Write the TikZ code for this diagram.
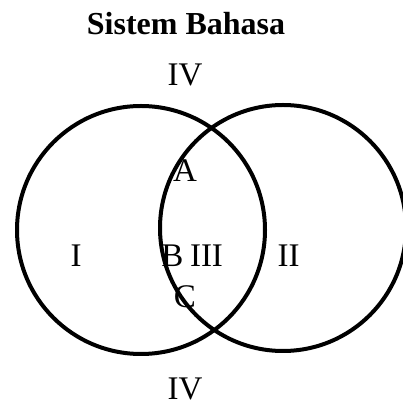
\documentclass[tikz,border=0pt]{standalone}
\usepackage{fontspec}
\setmainfont{Liberation Serif}
\usepackage{tikz}
\def\radL{124pt}
\def\radR{123pt}
\tikzset{
  lbl/.style={anchor=base,inner sep=0pt,font=\fontsize{33}{36}\selectfont},
  ttl/.style={anchor=base,inner sep=0pt,font=\fontsize{32}{36}\selectfont\bfseries}
}

\begin{document}
\begin{tikzpicture}[x=1pt,y=1pt]
\useasboundingbox (0,0) rectangle (403,407);
% the two circle centres
\coordinate (L) at (141,177);
\coordinate (R) at (283,179);
% the circles
\draw[line width=4pt] (L) circle [radius=\radL];
\draw[line width=4pt] (R) circle [radius=\radR];
% the title and the outer region
\node[ttl] (title) at (186,372) {Sistem Bahasa};
\node[lbl] (outtop) at (185,321) {IV};
\node[lbl] (outbot) at (185,8) {IV};
% the regions inside
\node[lbl] (regA) at (185,225) {A};
\node[lbl] (regI) at (76,140) {I};
\node[lbl] (regB) at (172.5,140) {B};
\node[lbl] (regIII) at (206.5,140) {III};
\node[lbl] (regII) at (288.5,140) {II};
\node[lbl] (regC) at (185,99) {C};
\end{tikzpicture}
\end{document}
